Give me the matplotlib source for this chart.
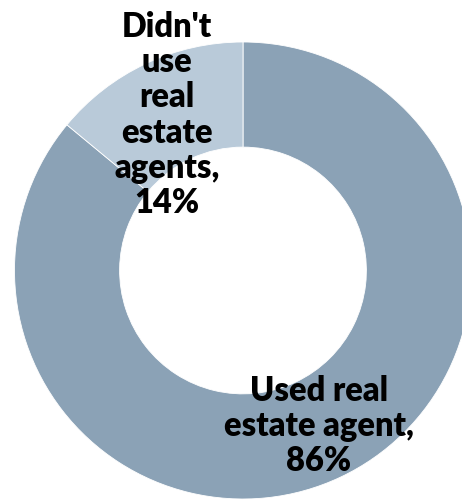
import matplotlib.pyplot as plt

# share of home sellers by whether they used an agent
labels = ["Used real\nestate agent,\n86%", "Didn't\nuse\nreal\nestate\nagents,\n14%"]
shares = [86, 14]
colors = ["#8BA2B6", "#B9CAD9"]

fig = plt.figure(figsize=(4.62, 5.02), dpi=100)
ax = fig.add_axes([0, 0, 1, 1])

R = 228.5  # outer radius in pixels, used to scale the limits
ax.pie(shares, colors=colors, startangle=90, counterclock=False,
       radius=1, wedgeprops=dict(width=0.46, edgecolor="white", linewidth=0.6))
ax.set_xlim(-243 / R, (462 - 243) / R)
ax.set_ylim(-230.5 / R, 271.5 / R)
ax.set_aspect("auto")
ax.axis("off")

def px(x, y):
    return (x - 243) / R, (271.5 - y) / R

font = dict(family=["Lato", "DejaVu Sans"], fontweight="heavy", fontsize=23.5,
            ha="center", va="center", linespacing=1.13, color="black")
ax.text(*px(319, 426), labels[0], **font)
ax.text(*px(167, 115), labels[1], **font)

fig.savefig("out.png", dpi=100)
